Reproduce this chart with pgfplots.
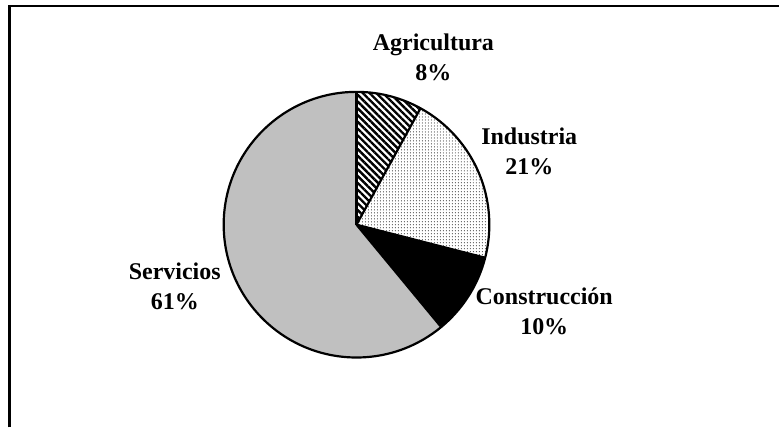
\documentclass[border=0pt]{standalone}
\usepackage{fontspec}
\setmainfont{Liberation Serif}
\usepackage{pgfplots}
\usepackage{pgfplotstable}
\pgfplotsset{compat=1.18}
\usetikzlibrary{patterns.meta}
\definecolor{servgray}{RGB}{192,192,192}
\tikzset{lbl/.style={font=\bfseries\fontsize{12}{15}\selectfont,align=center}}

% sector shares in percent, clockwise from 12 o'clock
\pgfplotstableread{
label value
Agricultura 8
Industria 21
Construccion 10
Servicios 61
}\piedata

\begin{document}
\begin{tikzpicture}
\pgfplotstablegetelem{0}{value}\of\piedata \let\vA\pgfplotsretval
\pgfplotstablegetelem{1}{value}\of\piedata \let\vB\pgfplotsretval
\pgfplotstablegetelem{2}{value}\of\piedata \let\vC\pgfplotsretval
\pgfplotstablegetelem{3}{value}\of\piedata \let\vD\pgfplotsretval
\pgfmathsetmacro\aA{90}
\pgfmathsetmacro\aB{\aA-3.6*\vA}
\pgfmathsetmacro\aC{\aB-3.6*\vB}
\pgfmathsetmacro\aD{\aC-3.6*\vC}
\pgfmathsetmacro\aE{\aD-3.6*\vD}
\def\rr{66.5pt}
\begin{axis}[width=390pt,height=214pt,scale only axis,
  xmin=0,xmax=780,ymin=0,ymax=428,hide axis,clip=false]
\path (axis cs:0,0) rectangle (axis cs:780,428);
\draw[line width=1.1pt] (axis cs:9.5,0) -- (axis cs:9.5,422) -- (axis cs:780,422);
% wedges
\fill[white] (axis cs:357,203) -- ++(\aA:\rr) arc[start angle=\aA,end angle=\aB,radius=\rr] -- cycle;
\fill[pattern={Lines[angle=-45,distance=2.4pt,line width=1.2pt]}] (axis cs:357,203) -- ++(\aA:\rr) arc[start angle=\aA,end angle=\aB,radius=\rr] -- cycle;
\fill[pattern={Dots[distance=1.5pt,radius=0.25pt]}] (axis cs:357,203) -- ++(\aB:\rr) arc[start angle=\aB,end angle=\aC,radius=\rr] -- cycle;
\fill[black] (axis cs:357,203) -- ++(\aC:\rr) arc[start angle=\aC,end angle=\aD,radius=\rr] -- cycle;
\fill[servgray] (axis cs:357,203) -- ++(\aD:\rr) arc[start angle=\aD,end angle=\aE,radius=\rr] -- cycle;
% outlines
\draw[line width=1.1pt] (axis cs:357,203) -- ++(\aA:\rr);
\draw[line width=1.1pt] (axis cs:357,203) -- ++(\aB:\rr);
\draw[line width=1.1pt] (axis cs:357,203) -- ++(\aC:\rr);
\draw[line width=1.1pt] (axis cs:357,203) -- ++(\aD:\rr);
\draw[line width=1.1pt] (axis cs:357,203) circle[radius=\rr];
% labels
\node[lbl] at (axis cs:434,371) {Agricultura\\\vA\%};
\node[lbl] at (axis cs:530,276) {Industria\\\vB\%};
\node[lbl] at (axis cs:545,116) {Construcción\\\vC\%};
\node[lbl] at (axis cs:175,141) {Servicios\\\vD\%};
\end{axis}
\end{tikzpicture}
\end{document}
